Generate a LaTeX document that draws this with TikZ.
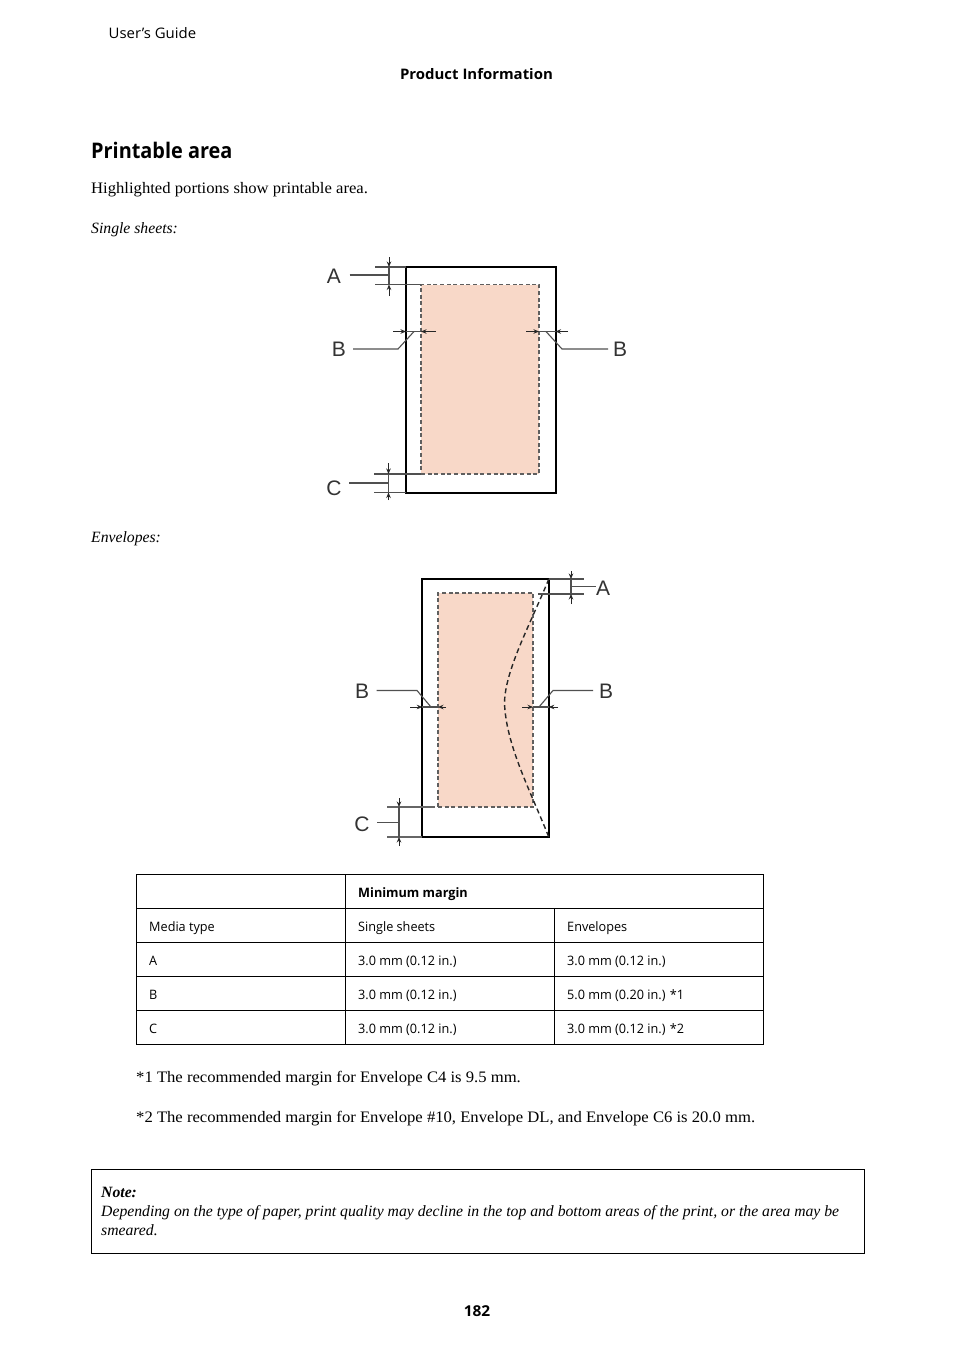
\documentclass[tikz,border=0pt]{standalone}
\usepackage{fontspec}
\setmainfont[FakeStretch=1.04]{Liberation Serif}
\newfontfamily\itserif{Liberation Serif}
\newfontfamily\uisans[FakeStretch=0.975]{Open Sans}
\newfontfamily\uiwide[FakeStretch=1.03]{Open Sans}
\newfontfamily\uititle[FakeStretch=0.925]{Open Sans}
\newfontfamily\letterfont{Liberation Sans}
\definecolor{peach}{RGB}{248,216,200}
\definecolor{dashgrey}{RGB}{95,95,95}
\definecolor{lead}{RGB}{80,80,80}
\usetikzlibrary{arrows.meta}
\tikzset{
 sheet/.style={draw=black,line width=2pt,fill=white,outer sep=0pt,inner sep=0pt},
 printarea/.style={draw=dashgrey,fill=peach,line width=1.7pt,dash pattern=on 4pt off 2.6pt,outer sep=0pt,inner sep=0pt},
 flap/.style={draw=black!85,line width=1.4pt,dash pattern=on 5pt off 3.4pt},
 dimline/.style={draw=lead,line width=1.1pt},
 dimarrow/.style={draw=black!85,line width=.9pt,-{Stealth[length=5.5pt,width=4.5pt]}},
 letter/.style={font=\letterfont\fontsize{21}{21}\selectfont,text=black!80,inner sep=0pt,anchor=center},
 body/.style={font=\fontsize{16}{19}\selectfont,anchor=base west,inner sep=0pt},
 bodyit/.style={font=\itserif\itshape\fontsize{15.7}{19}\selectfont,anchor=base west,inner sep=0pt},
 ui/.style={font=\uisans\fontsize{13}{16}\selectfont,anchor=base west,inner sep=0pt},
 uib/.style={font=\uisans\bfseries\fontsize{13}{16}\selectfont,anchor=base west,inner sep=0pt},
 rule/.style={draw=black,line width=.8pt},
}
\begin{document}
\begin{tikzpicture}[x=1pt,y=-1pt]
\useasboundingbox (0,0) rectangle (954,1350);
\fill[white] (0,0) rectangle (954,1350);
% header
\node[ui,font=\uiwide\fontsize{14.5}{16}\selectfont] (ug) at (108.5,38) {User’s Guide};
\node[uib,font=\uiwide\bfseries\fontsize{14.5}{16}\selectfont,anchor=base] (pi) at (476.5,79) {Product Information};
\node[uib,font=\uititle\bfseries\fontsize{21.5}{24}\selectfont] (ttl) at (91,158) {Printable area};
\node[body] (t1) at (91,193) {Highlighted portions show printable area.};
\node[bodyit] (t2) at (91,233) {Single sheets:};
\node[bodyit] (t3) at (91,542) {Envelopes:};
% single sheet
\node[sheet,minimum width=149.5pt,minimum height=225.5pt,anchor=north west] (s) at (406,267) {};
\node[printarea,minimum width=118pt,minimum height=189.5pt,anchor=north west] (si) at (421,284.5) {};
\coordinate (sa1) at (375,267); \coordinate (sa2) at (375,284.5);
\draw[dimline] (sa1) -- (s.north west);
\draw[dimline] (sa2) -- (si.north west);
\coordinate (sa3) at (389,257); \coordinate (sa4) at (389,267);
\coordinate (sa5) at (389,296); \coordinate (sa6) at (389,284.5);
\draw[dimarrow] (sa3) -- (sa4);
\draw[dimarrow] (sa5) -- (sa6);
\draw[dimline] (sa4) -- (sa6);
\node[letter] (sA) at (334,276) {A};
\coordinate (sa7) at (389,275);
\draw[dimline] (349.5,275) -- (sa7);
\node[letter] (sB1) at (339,349) {B};
\coordinate (sb1) at (393,331.5); \coordinate (sb2) at (406,331.5);
\coordinate (sb3) at (436,331.5); \coordinate (sb4) at (421,331.5);
\draw[dimarrow] (sb1) -- (sb2);
\draw[dimarrow] (sb3) -- (sb4);
\draw[dimline] (sb2) -- (sb4);
\draw[dimline] (353,349) -- (398,349) -- (414,331.5);
\node[letter] (sB2) at (620,349) {B};
\coordinate (sb5) at (526,331.5); \coordinate (sb6) at (539,331.5);
\coordinate (sb7) at (568,331.5); \coordinate (sb8) at (555.5,331.5);
\draw[dimarrow] (sb5) -- (sb6);
\draw[dimarrow] (sb7) -- (sb8);
\draw[dimline] (sb6) -- (sb8);
\draw[dimline] (546,331.5) -- (562,349) -- (608,349);
\draw[dimline] (374,474) -- (si.south west);
\draw[dimline] (374,492.5) -- (s.south west);
\coordinate (sc1) at (388.5,463); \coordinate (sc2) at (388.5,474);
\coordinate (sc3) at (388.5,500); \coordinate (sc4) at (388.5,492.5);
\draw[dimarrow] (sc1) -- (sc2);
\draw[dimarrow] (sc3) -- (sc4);
\draw[dimline] (sc2) -- (sc4);
\draw[dimline] (349,483) -- (388.5,483);
\node[letter] (sC) at (334,488) {C};
% envelope
\node[sheet,minimum width=126.5pt,minimum height=258pt,anchor=north west] (e) at (422.3,579) {};
\node[printarea,minimum width=95pt,minimum height=214pt,anchor=north west] (ei) at (438,593) {};
\draw[flap] (e.north east) .. controls (530,625) and (505,670) .. (504.5,703) .. controls (506,745) and (530,790) .. (e.south east);
\draw[dimline] (e.north east) -- (584,579);
\draw[dimline] (538,594) -- (584,594);
\coordinate (ea1) at (571,571); \coordinate (ea2) at (571,579);
\coordinate (ea3) at (571,604); \coordinate (ea4) at (571,594);
\draw[dimarrow] (ea1) -- (ea2);
\draw[dimarrow] (ea3) -- (ea4);
\draw[dimline] (ea2) -- (ea4);
\draw[dimline] (571,586.5) -- (596,586.5);
\node[letter] (eA) at (603,588) {A};
\node[letter] (eB1) at (362,691) {B};
\coordinate (eb1) at (410,707); \coordinate (eb2) at (422.3,707);
\coordinate (eb3) at (446,707); \coordinate (eb4) at (438,707);
\draw[dimarrow] (eb1) -- (eb2);
\draw[dimarrow] (eb3) -- (eb4);
\draw[dimline] (eb2) -- (eb4);
\draw[dimline] (376.5,690.5) -- (417,690.5) -- (431,707);
\node[letter] (eB2) at (606,691) {B};
\coordinate (eb5) at (522,707); \coordinate (eb6) at (533,707);
\coordinate (eb7) at (558,707); \coordinate (eb8) at (548.8,707);
\draw[dimarrow] (eb5) -- (eb6);
\draw[dimarrow] (eb7) -- (eb8);
\draw[dimline] (eb6) -- (eb8);
\draw[dimline] (539,707) -- (553,690.5) -- (593,690.5);
\draw[dimline,line width=1.3pt,draw=black!60] (387,807) -- (435,807);
\draw[dimline,line width=1.3pt,draw=black!60] (387,837) -- (e.south west);
\coordinate (ec1) at (399,798); \coordinate (ec2) at (399,807);
\coordinate (ec3) at (399,846); \coordinate (ec4) at (399,837);
\draw[dimarrow] (ec1) -- (ec2);
\draw[dimarrow] (ec3) -- (ec4);
\draw[dimline] (ec2) -- (ec4);
\draw[dimline] (377,822.5) -- (399,822.5);
\node[letter] (eC) at (362,824) {C};
% table
\draw[rule] (136.5,874.5) rectangle (763.5,1044.5);
\draw[rule] (136.5,908.5) -- (763.5,908.5);
\draw[rule] (136.5,942.5) -- (763.5,942.5);
\draw[rule] (136.5,976.5) -- (763.5,976.5);
\draw[rule] (136.5,1010.5) -- (763.5,1010.5);
\draw[rule] (345,874.5) -- (345,1044.5);
\draw[rule] (554,908.5) -- (554,1044.5);
\node[uib] (h1) at (358,897) {Minimum margin};
\node[ui] (a0) at (149,931) {Media type};
\node[ui] (a1) at (358,931) {Single sheets};
\node[ui] (a2) at (567,931) {Envelopes};
\node[ui] (b0) at (149,965) {A};
\node[ui] (b1) at (358,965) {3.0 mm (0.12 in.)};
\node[ui] (b2) at (567,965) {3.0 mm (0.12 in.)};
\node[ui] (c0) at (149,999) {B};
\node[ui] (c1) at (358,999) {3.0 mm (0.12 in.)};
\node[ui] (c2) at (567,999) {5.0 mm (0.20 in.) *1};
\node[ui] (d0) at (149,1033) {C};
\node[ui] (d1) at (358,1033) {3.0 mm (0.12 in.)};
\node[ui] (d2) at (567,1033) {3.0 mm (0.12 in.) *2};
\node[body] (n1) at (136,1082) {*1 The recommended margin for Envelope C4 is 9.5 mm.};
\node[body] (n2) at (136,1122) {*2 The recommended margin for Envelope \#10, Envelope DL, and Envelope C6 is 20.0 mm.};
% note
\draw[rule] (91,1169.5) rectangle (864.5,1253.5);
\node[bodyit,font=\itserif\bfseries\itshape\fontsize{15.7}{19}\selectfont] (nt) at (101,1197) {Note:};
\node[bodyit] (nb1) at (101,1216) {Depending on the type of paper, print quality may decline in the top and bottom areas of the print, or the area may be};
\node[bodyit] (nb2) at (101,1235) {smeared.};
\node[uib,font=\uiwide\bfseries\fontsize{15}{16}\selectfont,anchor=base] (pg) at (477,1316) {182};
\end{tikzpicture}
\end{document}
